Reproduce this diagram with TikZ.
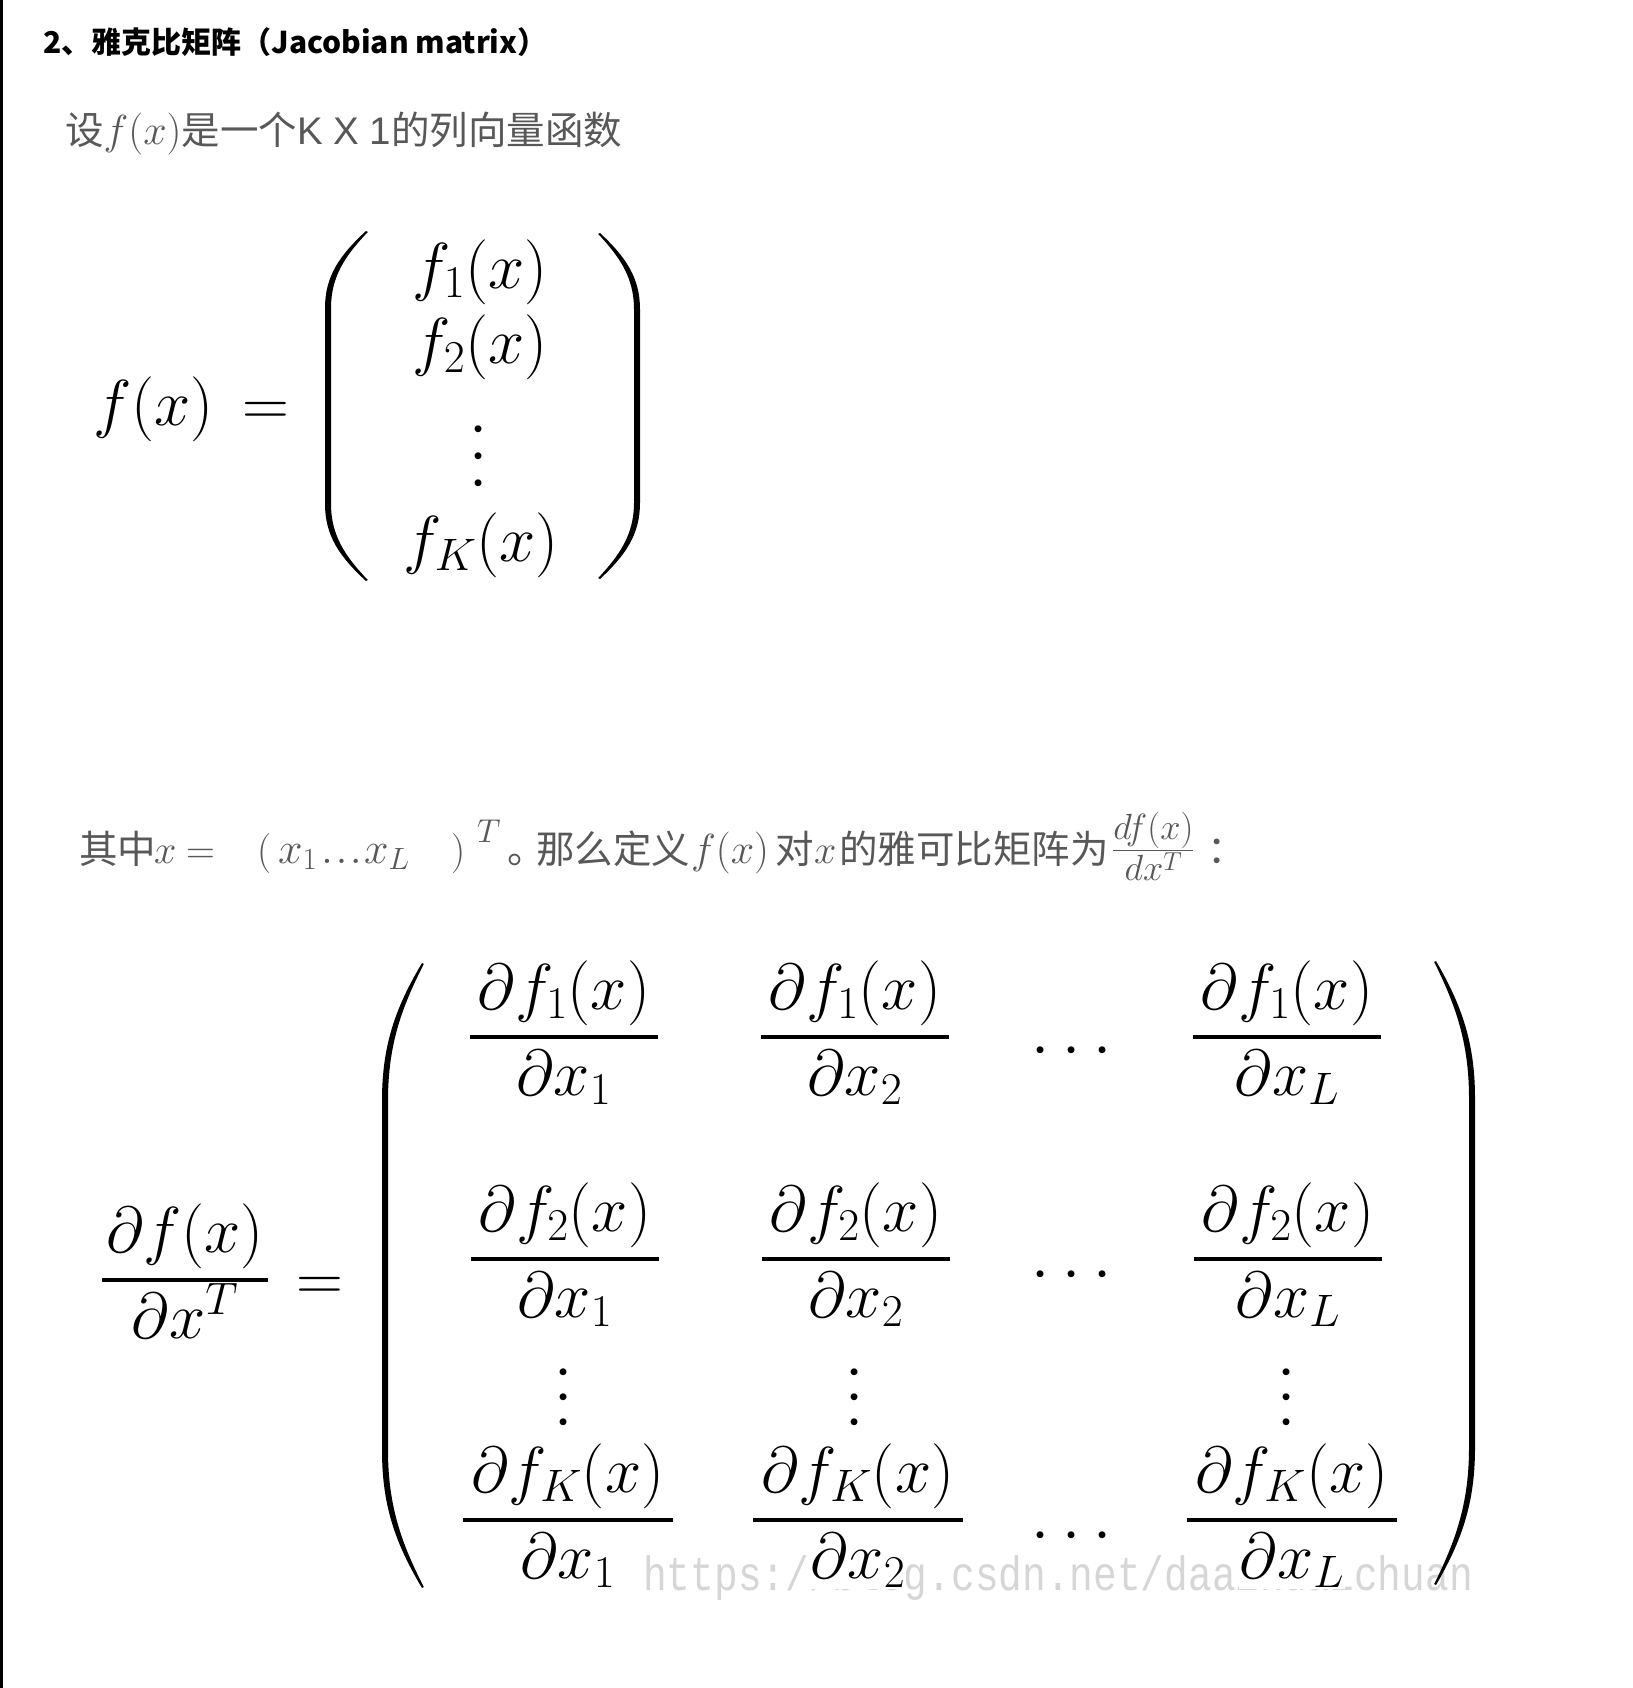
\RequirePackage{fix-cm}
\documentclass[tikz,border=0pt]{standalone}
\usepackage{amsmath}
\usepackage{fontspec}
\newfontfamily\cjk{Noto Sans CJK SC}
\newfontfamily\arialf{Liberation Sans}
\newfontfamily\monof{Liberation Mono}
\definecolor{txtgray}{RGB}{88,88,88}
\definecolor{wmgray}{RGB}{214,214,214}
\newcommand\DrawParen[5]{% #1 end x, #2 mid x, #3 top y, #4 bottom y, #5 thickness (signed)
  \fill ({#1},{#3}) .. controls ({#2+0.35*(#1-#2)},{#3+0.07*(#4-#3)}) and ({#2},{#3+0.13*(#4-#3)}) .. ({#2},{#3+0.22*(#4-#3)})
   -- ({#2},{#4-0.22*(#4-#3)}) .. controls ({#2},{#4-0.13*(#4-#3)}) and ({#2+0.35*(#1-#2)},{#4-0.07*(#4-#3)}) .. ({#1},{#4})
   -- ({#1+0.3*#5},{#4-1}) .. controls ({#2+#5+0.35*(#1-#2)},{#4-0.07*(#4-#3)}) and ({#2+#5},{#4-0.13*(#4-#3)}) .. ({#2+#5},{#4-0.22*(#4-#3)})
   -- ({#2+#5},{#3+0.22*(#4-#3)}) .. controls ({#2+#5},{#3+0.13*(#4-#3)}) and ({#2+#5+0.35*(#1-#2)},{#3+0.07*(#4-#3)}) .. ({#1+0.3*#5},{#3+1}) -- cycle;}
\newcommand\JF[7]{% name, x, ybar, half width, num, den, den style
  \node[bigm] (#1n) at ({#2},{#3-28}) {$#5$};
  \draw[fbar] ({#2-#4},{#3}) -- ({#2+#4},{#3});
  \node[bigm,#7] (#1d) at ({#2},{#3+58}) {$#6$};}
\tikzset{
  bigm/.style={font=\fontsize{65}{78}\selectfont, inner sep=0pt, anchor=base},
  fbar/.style={line width=4pt},
  ltxt/.style={font=\fontsize{40}{48}\selectfont, text=txtgray, inner sep=0pt, anchor=base west},
  ctxt/.style={font=\cjk\fontsize{38.5}{46}\selectfont, text=txtgray, inner sep=0pt, anchor=base west},
  dotn/.style={font=\fontsize{65}{78}\selectfont, inner sep=0pt, anchor=base},
  wm/.style={font=\monof\fontsize{39.5}{46}\selectfont, text=wmgray, inner sep=0pt, anchor=base west},
  cover/.style={fill=white, inner sep=1pt}
}
\begin{document}
\begin{tikzpicture}[x=1pt,y=-1pt]
\useasboundingbox (0,0) rectangle (1632,1688);
\fill[white] (0,0) rectangle (1632,1688);
\draw[line width=3pt] (1.5,0) -- (1.5,1688);
% title
\node[anchor=base west, inner sep=0pt, font=\cjk\bfseries\fontsize{30}{36}\selectfont] (title) at (43,54) {2、雅克比矩阵（Jacobian matrix）};
% line 1
\node[ctxt] (l1) at (65,145) {设{\fontsize{42}{48}\selectfont$f(x)$}是一个{\arialf K X 1}的列向量函数};
% first matrix
\node[bigm, anchor=base west] (fx) at (93,425) {$f(x)\mkern3mu=$};
\DrawParen{366}{325}{231}{581}{6}
\DrawParen{600}{640}{233}{579}{-6}
\node[bigm] (f1) at (480,288) {$f_1(x)$};
\node[bigm] (f2) at (480,363) {$f_2(x)$};
\node[dotn] (v1a) at (479,445) {$\cdot$};
\node[dotn] (v1b) at (479,472) {$\cdot$};
\node[dotn] (v1c) at (479,499) {$\cdot$};
\node[bigm] (fK) at (481,561) {$f_K(x)$};
% line 2
\node[ctxt] (l2a) at (79,863) {其中};
\node[ltxt] (l2b) at (154,863) {$x$};
\node[ltxt] (l2c) at (186,863) {$=$};
\node[ltxt] (l2d) at (257,863) {$($};
\node[ltxt, font=\fontsize{44}{50}\selectfont] (l2e) at (278,863) {$x_1$};
\node[ltxt, font=\fontsize{44}{50}\selectfont] (l2f) at (321,863) {$.\mkern1mu.\mkern1mu.$};
\node[ltxt, font=\fontsize{44}{50}\selectfont] (l2g) at (364,863) {$x_L$};
\node[ltxt] (l2h) at (451,863) {$)$};
\node[ltxt, font=\fontsize{33}{40}\selectfont] (l2i) at (477,842) {$T$};
\node[ctxt] (l2j) at (507,863) {。};
\node[ctxt] (l2k) at (536,863) {那么定义};
\node[ltxt, font=\fontsize{42}{48}\selectfont] (l2l) at (691,863) {$f(x)$};
\node[ctxt] (l2m) at (775,863) {对};
\node[ltxt] (l2n) at (814,863) {$x$};
\node[ctxt] (l2o) at (839,863) {的雅可比矩阵为};
\node[ltxt, font=\fontsize{52}{60}\selectfont] (l2p) at (1112,863) {$\frac{df(x)}{dx^T}$};
\node[ctxt] (l2q) at (1207,863) {：};
% watermark
\node[wm] (wmk) at (643,1590) {\scalebox{1}[1.22]{https://blog.csdn.net/daaikuaichuan}};
% Jacobian
\JF{lhs}{185}{1280}{83}{\partial f(x)}{\partial x^T}{}
\node[bigm] (eq) at (320,1300) {$=$};
\DrawParen{422}{382}{963}{1588}{6}
\DrawParen{1436}{1475}{961}{1585}{-6}
\JF{a11}{564}{1037}{94}{\partial f_1(x)}{\partial x_1}{}
\JF{a12}{855}{1037}{94}{\partial f_1(x)}{\partial x_2}{}
\JF{a14}{1287}{1037}{94}{\partial f_1(x)}{\partial x_L}{}
\JF{a21}{565}{1259}{94}{\partial f_2(x)}{\partial x_1}{}
\JF{a22}{856}{1259}{94}{\partial f_2(x)}{\partial x_2}{}
\JF{a24}{1288}{1259}{94}{\partial f_2(x)}{\partial x_L}{}
\JF{aK1}{568}{1520}{105}{\partial f_K(x)}{\partial x_1}{cover}
\JF{aK2}{858}{1520}{105}{\partial f_K(x)}{\partial x_2}{cover}
\JF{aK4}{1292}{1520}{105}{\partial f_K(x)}{\partial x_L}{cover}
% row dots
\foreach \r/\y in {1/1066,2/1290,3/1551}{
  \node[dotn] (h\r a) at (1041,\y) {$\cdot$};
  \node[dotn] (h\r b) at (1072,\y) {$\cdot$};
  \node[dotn] (h\r c) at (1103,\y) {$\cdot$};
}
% column vdots
\foreach \c/\x in {1/564,2/855,4/1287}{
  \node[dotn] (v\c a) at (\x,1388) {$\cdot$};
  \node[dotn] (v\c b) at (\x,1413) {$\cdot$};
  \node[dotn] (v\c c) at (\x,1438) {$\cdot$};
}
\end{tikzpicture}
\end{document}
